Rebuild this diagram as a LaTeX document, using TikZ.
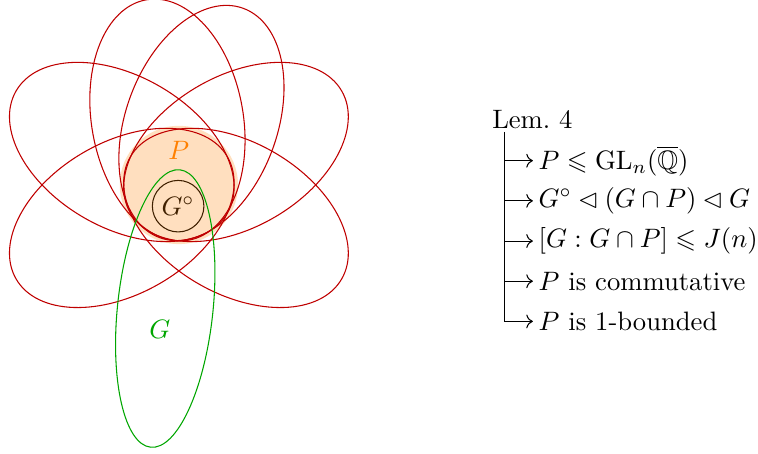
\documentclass[tikz,border=0pt]{standalone}
\usepackage{amsmath,amssymb}
\usetikzlibrary{arrows.meta}

\begin{document}
\begin{tikzpicture}[petal/.style={draw=red!75!black},
  gset/.style={draw=green!65!black},
  item/.style={anchor=west,inner sep=2pt}]
\useasboundingbox (-2.36,-3.54) rectangle (7.64,2.44);
% nested sets
\node[draw,circle,minimum size=0.68cm,inner sep=0pt] (gc) at (-0.01,-0.28) {$G^\circ$};
\node[circle,fill=orange,fill opacity=0.25,minimum size=1.56cm,inner sep=0pt] (P) at (0,0) {};
\foreach \d in {100,70,150,30,210,330}
  \draw[petal] (\d:0.87) ellipse [x radius=1.61, y radius=1, rotate=\d];
\draw[gset] (-0.18,-1.63) ellipse [x radius=1.84, y radius=0.63, rotate=84];
\node[text=orange] (plab) at (0,0.46) {$P$};
\node[text=green!65!black] (glab) at (-0.25,-1.91) {$G$};
% lemma tree
\node[anchor=west] (lem) at (4.01,0.86) {Lem.~4};
\coordinate (top) at (4.30,0.70);
\node[item] (l1) at (4.67,0.32) {$P\leqslant\mathrm{GL}_n(\overline{\mathbb{Q}})$};
\node[item] (l2) at (4.67,-0.21) {$G^\circ\lhd(G\cap P)\lhd G$};
\node[item] (l3) at (4.67,-0.74) {$[G:G\cap P]\leqslant J(n)$};
\node[item] (l4) at (4.67,-1.27) {$P$ is commutative};
\node[item] (l5) at (4.67,-1.80) {$P$ is 1-bounded};
\draw[->] (top) |- (l5.west);
\draw[->] (top |- l1.west) -- (l1.west);
\draw[->] (top |- l2.west) -- (l2.west);
\draw[->] (top |- l3.west) -- (l3.west);
\draw[->] (top |- l4.west) -- (l4.west);
\end{tikzpicture}
\end{document}
